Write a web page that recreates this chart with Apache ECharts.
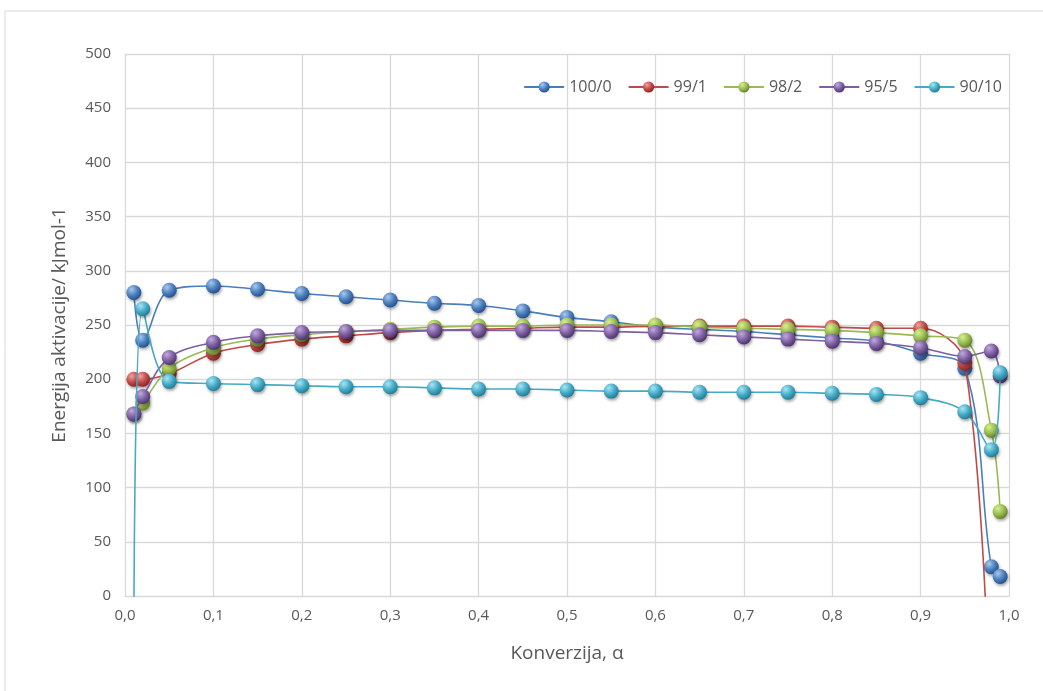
<!DOCTYPE html>
<html><head><meta charset="utf-8">
<script src="https://cdn.jsdelivr.net/npm/echarts@6/dist/echarts.min.js"></script>
<style>html,body{margin:0;padding:0;background:#fff}#c{width:1043px;height:691px}</style>
</head><body><div id="c"></div>
<script>
const xValues = [0.01,0.02,0.05,0.1,0.15,0.2,0.25,0.3,0.35,0.4,0.45,0.5,0.55,0.6,0.65,0.7,0.75,0.8,0.85,0.9,0.95,0.98,0.99];
const seriesNames = ['100/0','99/1','98/2','95/5','90/10'];
const s100_0 = [280,236,282,286,283,279,276,273,270,268,263,257,253,248,246,244,241,238,235,224,210,27,18];
const s99_1  = [200,200,205,224,232,237,240,243,245,246,247,248,248,249,249,249,249,248,247,247,215,-160,null];
const s98_2  = [168,178,210,229,237,241,244,246,248,249,249,250,250,250,248,247,246,245,243,240,236,153,78];
const s95_5  = [168,184,220,234,240,243,244,245,245,245,245,245,244,243,241,239,237,235,233,229,221,226,203];
const s90_10 = [-60,265,198,196,195,194,193,193,192,191,191,190,189,189,188,188,188,187,186,183,170,135,206];
const xTicks = ['0,0','0,1','0,2','0,3','0,4','0,5','0,6','0,7','0,8','0,9','1,0'];

const allData = [s100_0,s99_1,s98_2,s95_5,s90_10];
const lineColors = ['#4a7ebb','#be4b48','#98b954','#7d60a0','#46aac5'];
const lightC = ['#a9c8f0','#f2a09e','#d9f08a','#c2a9e0','#a6e6f5'];
const darkC  = ['#1f4e8c','#8c1f1c','#5f7f1f','#4a2f6e','#1b7a94'];

const chart = echarts.init(document.getElementById('c'));
const series = seriesNames.map((n,i)=>({
  name:n, type:'line', smooth:0.35, clip:true,
  data: xValues.map((x,j)=>[x, allData[i][j]]).filter(p=>p[1]!==null),
  symbol:'circle', symbolSize:15,
  lineStyle:{color:lineColors[i], width:1.6},
  itemStyle:{
    color:new echarts.graphic.RadialGradient(0.35,0.3,0.75,[{offset:0,color:lightC[i]},{offset:0.55,color:lineColors[i]},{offset:1,color:darkC[i]}]),
    shadowColor:'rgba(0,0,0,0.35)', shadowBlur:3, shadowOffsetX:1, shadowOffsetY:2
  },
  z: 2+i
}));
chart.setOption({
  animation:false,
  graphic:[{type:'rect',shape:{x:5,y:11,width:1043,height:690},style:{fill:'none',stroke:'#d9d9d9',lineWidth:1},silent:true}],
  grid:{left:125,right:34,top:54,bottom:95},
  legend:{
    top:74, right:36, itemWidth:40, itemHeight:14, itemGap:16,
    textStyle:{color:'#595959',fontSize:16,fontFamily:'Open Sans'},
    data:seriesNames
  },
  xAxis:{
    type:'value', min:0, max:1, interval:0.1,
    name:'Konverzija, α', nameLocation:'middle', nameGap:48,
    nameTextStyle:{color:'#595959',fontSize:19,fontFamily:'Open Sans'},
    axisLine:{show:true,lineStyle:{color:'#d9d9d9'}},
    axisTick:{show:false},
    axisLabel:{color:'#595959',fontSize:15,fontFamily:'Open Sans',margin:12,formatter:v=>xTicks[Math.round(v*10)]},
    splitLine:{show:true,lineStyle:{color:'#d9d9d9',width:1.3}}
  },
  yAxis:{
    type:'value', min:0, max:500, interval:50,
    name:'Energija aktivacije/ kJmol-1', nameLocation:'middle', nameGap:56, nameRotate:90,
    nameTextStyle:{color:'#595959',fontSize:19,fontFamily:'Open Sans'},
    axisLine:{show:false}, axisTick:{show:false},
    axisLabel:{color:'#595959',fontSize:15,fontFamily:'Open Sans',margin:14},
    splitLine:{show:true,lineStyle:{color:'#d9d9d9',width:1.3}}
  },
  series
});
</script></body></html>
